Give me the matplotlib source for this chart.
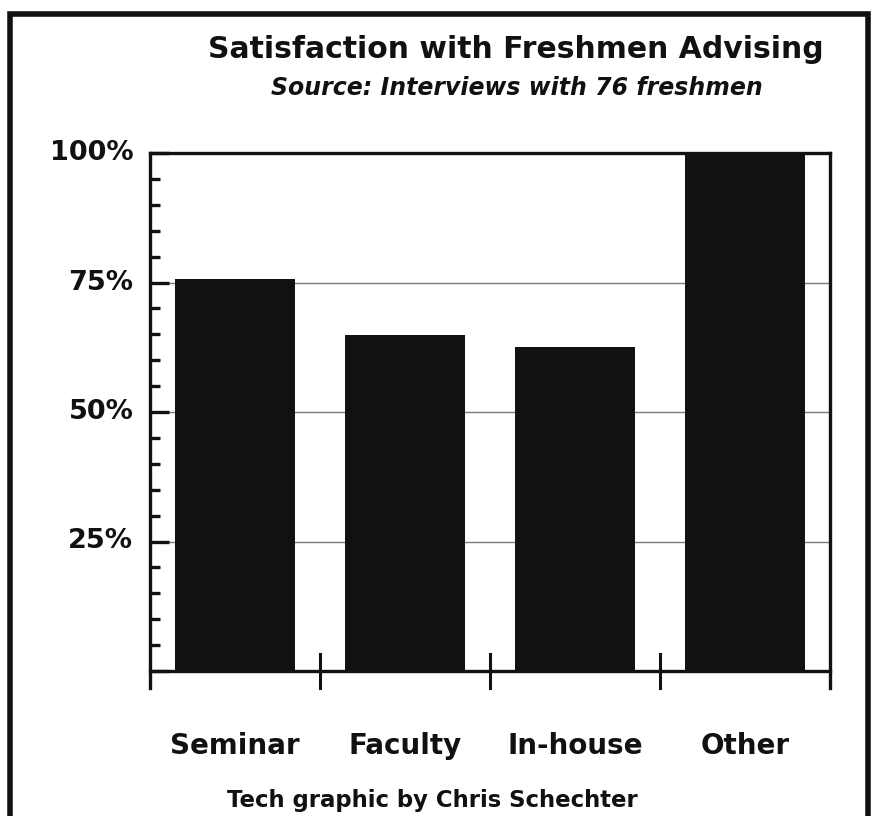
import matplotlib
matplotlib.use("Agg")
import matplotlib.pyplot as plt
from matplotlib.patches import Rectangle

categories = ["Seminar", "Faculty", "In-house", "Other"]
satisfaction = [75.7, 64.8, 62.5, 100.0]
ytick_values = [25, 50, 75, 100]
ytick_labels = ["25%", "50%", "75%", "100%"]
title = "Satisfaction with Freshmen Advising"
subtitle = "Source: Interviews with 76 freshmen"
credit = "Tech graphic by Chris Schechter"

plt.rcParams['font.family'] = ['DejaVu Sans']

fig = plt.figure(figsize=(8.77, 8.16), dpi=100)
ax = fig.add_axes([150/877, 1-671/816, 680/877, (671-153)/816])

x = list(range(len(categories)))
ax.set_xlim(-0.5, len(categories) - 0.5)
ax.set_ylim(0, 100)

for v in [25, 50, 75]:
    ax.axhline(v, color="#7a7a7a", lw=1.0, zorder=1)

ax.bar(x, satisfaction, width=0.71, color="#111111", zorder=2)

for s in ["left", "right", "top", "bottom"]:
    ax.spines[s].set_linewidth(2.4)
    ax.spines[s].set_color("#111111")
ax.spines["left"].set_bounds(-3.3, 100)
ax.spines["right"].set_bounds(-3.3, 100)

# category boundary ticks crossing the baseline
for b in [i + 0.5 for i in x[:-1]]:
    ax.plot([b, b], [-3.3, 3.3], color="#111111", lw=2.2, clip_on=False, zorder=3)

ax.set_yticks([0] + ytick_values)
ax.set_yticklabels([""] + ytick_labels, fontsize=19.5, fontweight="bold", color="#111111")
ax.set_yticks(range(5, 100, 5), minor=True)
ax.tick_params(axis="y", which="major", direction="in", length=14, width=2.4, pad=12, color="#111111")
ax.tick_params(axis="y", which="minor", direction="in", length=7, width=2.4, color="#111111")
ax.set_xticks([])
for lbl in ax.get_yticklabels():
    lbl.set_verticalalignment("center")

for i, c in enumerate(categories):
    ax.text(i, -14.5, c, ha="center", va="center", fontsize=20, fontweight="bold", color="#111111")

fig.text(516/877, 1-50/816, title, ha="center", va="center", fontsize=21.5, fontweight="bold", color="#111111")
fig.text(517/877, 1-88/816, subtitle, ha="center", va="center", fontsize=17, fontweight="bold", style="italic", color="#111111")
fig.text(432/877, 1-800/816, credit, ha="center", va="center", fontsize=16.4, fontweight="bold", color="#111111")

fig.patches.append(Rectangle((10/877, -0.05), 858/877, 1.05 - 14/816, transform=fig.transFigure,
                             fill=False, lw=4, edgecolor="#111111"))

fig.savefig("out.png", dpi=100)
